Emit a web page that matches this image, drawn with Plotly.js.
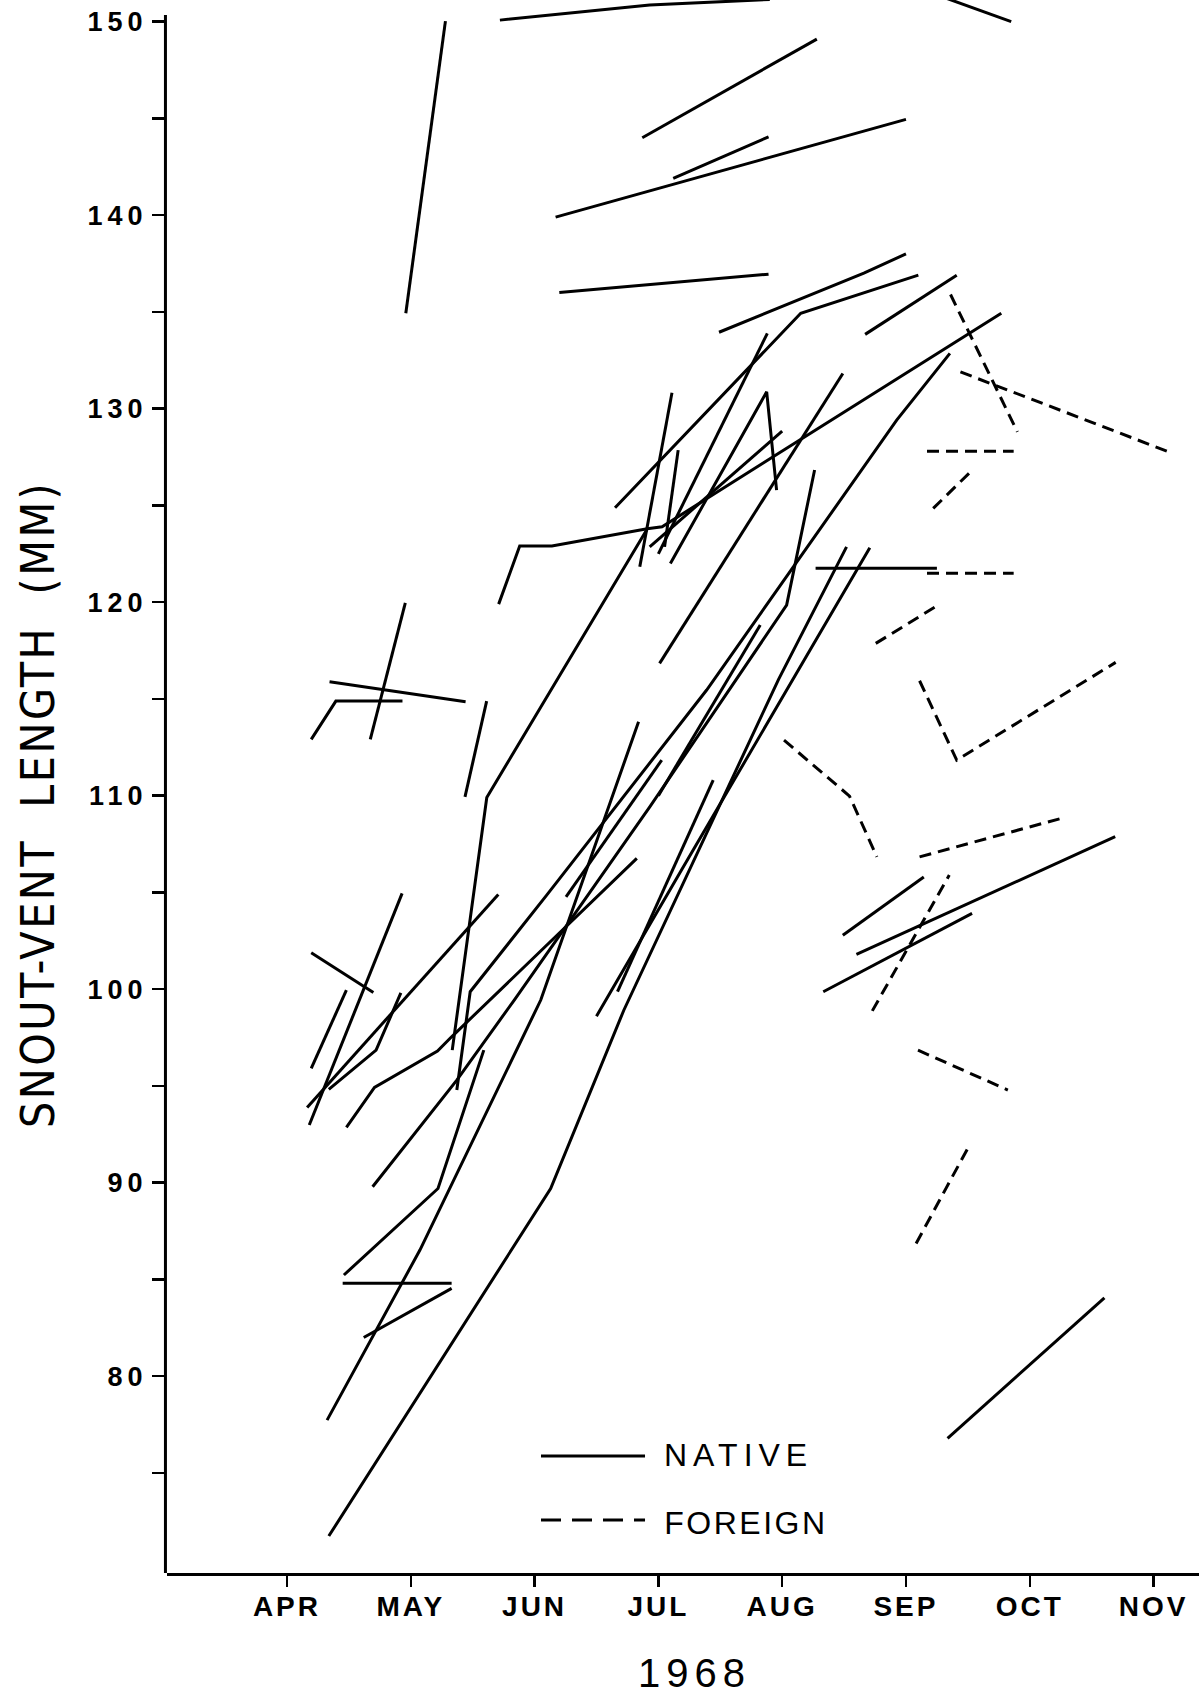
<!DOCTYPE html>
<html>
<head>
<meta charset="utf-8">
<script src="https://cdn.plot.ly/plotly-3.0.1.min.js"></script>
<style>
  html, body { margin: 0; padding: 0; background: #fff; }
  #chart { width: 1199px; height: 1696px; }
  .ytick text { letter-spacing: 5px; }
  .xtick text { letter-spacing: 3px; }
  g.annotation[data-index="0"] text { letter-spacing: 6px; }
  g.annotation[data-index="1"] text { letter-spacing: 2.5px; }
  g.annotation[data-index="2"] text { letter-spacing: 2.5px; }
  g.annotation[data-index="3"] text { letter-spacing: 6px; }
</style>
</head>
<body>
<div id="chart"></div>
<script>
// x: month number (4 = APR ... 11 = NOV), y: snout-vent length (mm)
const monthTicks = [4, 5, 6, 7, 8, 9, 10, 11];
const monthLabels = ['APR', 'MAY', 'JUN', 'JUL', 'AUG', 'SEP', 'OCT', 'NOV'];
const lengthTicks = [75, 80, 85, 90, 95, 100, 105, 110, 115, 120, 125, 130, 135, 140, 145, 150];
const lengthLabels = ['', '80', '', '90', '', '100', '', '110', '', '120', '', '130', '', '140', '', '150'];

// growth paths of individual native animals: [month, length] pairs
const nativePaths = [
  [[4.96,134.93],[5.28,150.03]],
  [[5.72,150.08],[6.93,150.86],[7.9,151.15]],
  [[9.33,151.2],[9.85,150.0]],
  [[6.87,144.0],[8.28,149.1]],
  [[7.12,141.9],[7.89,144.05]],
  [[6.17,139.9],[9.0,144.95]],
  [[6.2,136.0],[7.89,136.95]],
  [[7.49,133.95],[8.66,137.0],[9.0,138.0]],
  [[6.65,124.88],[8.15,134.93],[9.1,136.9]],
  [[8.67,133.84],[9.41,136.9]],
  [[5.71,119.9],[5.88,122.9],[6.14,122.9],[6.91,123.8],[7.03,123.9],[9.77,134.93]],
  [[6.85,121.83],[7.11,130.82]],
  [[7.05,122.86],[7.16,127.86]],
  [[6.93,122.86],[8.0,128.84]],
  [[7.0,122.5],[7.88,133.89]],
  [[7.097,122.0],[7.875,130.87],[7.955,125.79]],
  [[7.01,116.84],[8.49,131.82]],
  [[5.335,96.85],[5.614,109.91],[6.905,123.73]],
  [[5.372,94.79],[5.48,99.87],[6.098,104.86],[7.39,115.46],[8.925,129.41],[9.355,132.86]],
  [[4.196,112.91],[4.395,114.89],[4.933,114.89]],
  [[4.344,115.89],[5.443,114.85]],
  [[4.673,112.91],[4.956,119.97]],
  [[5.438,109.94],[5.613,114.89]],
  [[8.27,121.75],[9.25,121.75]],
  [[8.49,102.79],[9.144,105.8]],
  [[8.6,101.8],[10.69,107.88]],
  [[8.332,99.87],[9.534,103.92]],
  [[9.336,76.79],[10.603,84.05]],
  [[4.196,101.88],[4.698,99.83]],
  [[4.18,92.98],[4.93,104.95]],
  [[4.196,95.91],[4.48,99.95]],
  [[4.163,93.89],[5.707,104.9]],
  [[4.338,94.82],[4.72,96.85],[4.92,99.81]],
  [[4.48,92.86],[4.707,94.92],[5.216,96.8],[5.33,97.54],[6.826,106.76]],
  [[4.338,71.74],[6.13,89.7],[6.72,98.9],[7.97,116.0],[8.52,122.86]],
  [[4.324,77.73],[5.074,86.52],[6.05,99.44],[6.84,113.82]],
  [[4.46,85.23],[5.22,89.7],[5.59,96.85]],
  [[4.45,84.8],[5.33,84.8]],
  [[4.62,82.0],[5.33,84.54]],
  [[4.692,89.79],[5.372,95.3],[5.836,99.44],[6.932,109.43],[8.036,119.85],[8.262,126.83]],
  [[6.67,99.87],[7.443,110.81]],
  [[6.254,104.77],[7.027,111.84]],
  [[6.5,98.6],[7.187,106.16],[8.708,122.81]],
  [[7.0,110.0],[7.823,118.82]]
];

// growth paths of foreign (introduced) animals
const foreignPaths = [
  [[9.36,135.9],[9.9,128.8]],
  [[9.44,131.9],[11.11,127.8]],
  [[9.17,127.8],[9.87,127.8]],
  [[9.22,124.85],[9.54,126.85]],
  [[9.17,121.5],[9.87,121.5]],
  [[8.756,117.87],[9.27,119.89]],
  [[9.11,115.94],[9.41,111.84],[10.694,116.89]],
  [[8.015,112.87],[8.544,109.98],[8.765,106.84]],
  [[9.11,106.84],[10.284,108.88]],
  [[8.728,98.88],[9.35,105.9]],
  [[9.097,96.85],[9.823,94.79]],
  [[9.082,86.86],[9.506,91.86]]
];

function flatten(paths) {
  const xs = [], ys = [];
  paths.forEach(p => {
    p.forEach(pt => { xs.push(pt[0]); ys.push(pt[1]); });
    xs.push(null); ys.push(null);
  });
  return {x: xs, y: ys};
}

const nat = flatten(nativePaths);
const frn = flatten(foreignPaths);

const traces = [
  {x: nat.x, y: nat.y, type: 'scatter', mode: 'lines', name: 'NATIVE',
   connectgaps: false, line: {color: '#000', width: 3}, hoverinfo: 'skip'},
  {x: frn.x, y: frn.y, type: 'scatter', mode: 'lines', name: 'FOREIGN',
   connectgaps: false, line: {color: '#000', width: 3, dash: '12px,7px'}, hoverinfo: 'skip'}
];

const yBottom = 69.83, yAxisTop = 150.34;

const layout = {
  width: 1199, height: 1696,
  margin: {l: 167, r: 0, t: 0, b: 123},
  paper_bgcolor: '#fff', plot_bgcolor: '#fff',
  showlegend: false,
  xaxis: {
    range: [3.031, 11.367],
    showgrid: false, zeroline: false,
    showline: true, linecolor: '#000', linewidth: 3,
    ticks: 'outside', ticklen: 11, tickwidth: 2.5, tickcolor: '#000',
    tickvals: monthTicks, ticktext: monthLabels,
    ticklabelstandoff: -5,
    tickfont: {family: 'Liberation Sans, Arial, sans-serif', size: 28, color: '#000', weight: 700},
    title: {text: ''}
  },
  yaxis: {
    range: [yBottom, 151.12],
    showgrid: false, zeroline: false,
    showline: false,
    ticks: 'outside', ticklen: 14, tickwidth: 2.5, tickcolor: '#000',
    tickvals: lengthTicks, ticktext: lengthLabels,
    ticklabelstandoff: -1,
    tickfont: {family: 'Liberation Sans, Arial, sans-serif', size: 27, color: '#000', weight: 700},
    title: {text: ''}
  },
  shapes: [
    // y axis line (ends just above the 150 tick, as in the original)
    {type: 'line', xref: 'paper', yref: 'y', x0: -0.0015, x1: -0.0015, y0: yBottom, y1: yAxisTop,
     line: {color: '#000', width: 3}},
    // legend keys
    {type: 'line', xref: 'paper', yref: 'paper', x0: 0.3624, x1: 0.4632, y0: 0.0744, y1: 0.0744,
     line: {color: '#000', width: 3}},
    {type: 'line', xref: 'paper', yref: 'paper', x0: 0.3624, x1: 0.4632, y0: 0.0337, y1: 0.0337,
     line: {color: '#000', width: 3, dash: '20px,11px'}}
  ],
  annotations: [
    {xref: 'paper', yref: 'paper', x: 0.4971, y: 0.0750, xanchor: 'left', yanchor: 'middle',
     text: 'NATIVE', showarrow: false,
     font: {family: 'Liberation Sans, Arial, sans-serif', size: 32, color: '#000'}},
    {xref: 'paper', yref: 'paper', x: 0.4884, y: 0.0318, xanchor: 'left', yanchor: 'middle',
     text: 'FOREIGN', showarrow: false,
     font: {family: 'Liberation Sans, Arial, sans-serif', size: 32, color: '#000'}},
    // y axis title
    {xref: 'paper', yref: 'paper', x: -0.125, y: 0.4882, xanchor: 'center', yanchor: 'middle',
     textangle: -90, text: 'SNOUT-VENT\u00A0 LENGTH\u00A0 (MM)', showarrow: false,
     font: {family: 'Liberation Sans Narrow, DejaVu Sans Condensed, Liberation Sans, sans-serif', size: 46, color: '#000'}},
    // x axis title
    {xref: 'paper', yref: 'paper', x: 0.5115, y: -0.0636, xanchor: 'center', yanchor: 'middle',
     text: '1968', showarrow: false,
     font: {family: 'Liberation Sans, Arial, sans-serif', size: 40, color: '#000'}}
  ]
};

Plotly.newPlot('chart', traces, layout, {staticPlot: true, displayModeBar: false});
</script>
</body>
</html>
